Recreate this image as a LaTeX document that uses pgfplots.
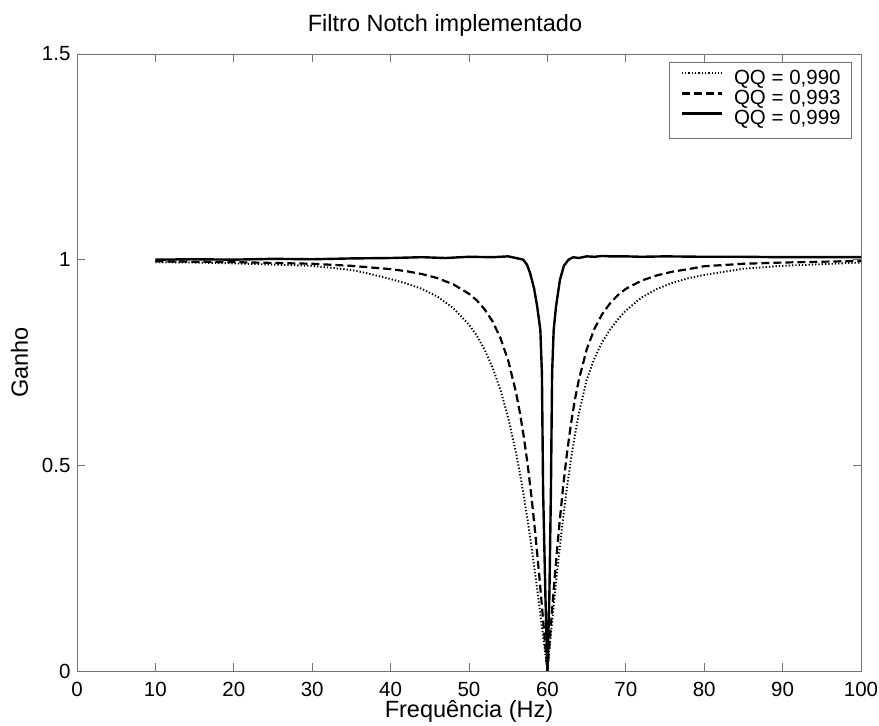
\documentclass[border=0pt]{standalone}
\usepackage{fontspec}
\setmainfont{Liberation Sans}
\usepackage{pgfplots}
\usepackage{pgfplotstable}
\pgfplotsset{compat=1.18}
\newcommand\fs[1]{\fontsize{#1}{#1}\selectfont}
\definecolor{axgray}{rgb}{0.45,0.45,0.45}

\pgfplotstableread{
f g
10 0.994
15 0.993
20 0.991
25 0.988
30 0.985
35 0.975
37 0.967
40 0.953
42 0.942
44 0.929
46 0.910
48 0.882
50 0.842
51 0.815
52 0.781
53 0.738
54 0.684
55 0.616
56 0.530
56.5 0.480
57 0.424
57.5 0.364
58 0.298
58.5 0.228
59 0.154
59.5 0.078
60 0.000
60.5 0.100
61 0.196
61.5 0.287
62 0.371
62.5 0.447
63 0.514
63.5 0.573
64 0.625
65 0.707
66 0.760
67 0.800
68 0.830
69 0.855
70 0.876
72 0.908
74 0.929
76 0.944
78 0.955
80 0.963
85 0.978
90 0.985
95 0.989
100 0.993
}\qqa

\pgfplotstableread{
f g
10 0.996
15 0.995
20 0.994
25 0.992
30 0.990
35 0.985
40 0.977
42 0.972
44 0.965
46 0.955
48 0.940
50 0.917
51 0.901
52 0.879
53 0.850
54 0.810
55 0.755
56 0.677
56.5 0.627
57 0.568
57.5 0.499
58 0.418
58.5 0.326
59 0.224
59.5 0.114
60 0.000
60.5 0.124
61 0.243
61.5 0.351
62 0.447
62.5 0.530
63 0.600
63.5 0.659
64 0.707
65 0.781
66 0.832
67 0.868
68 0.894
69 0.914
70 0.929
72 0.949
74 0.962
76 0.971
78 0.977
80 0.984
85 0.990
90 0.993
95 0.995
100 0.997
}\qqb

\pgfplotstableread{
f g
10 1.000
15 1.001
20 1.000
25 1.002
30 1.001
35 1.003
40 1.004
44 1.006
47 1.004
50 1.007
53 1.006
55 1.008
56 1.004
56.9 1.000
57.4 0.988
57.8 0.967
58.3 0.930
58.7 0.886
59.1 0.829
59.3 0.724
59.45 0.440
59.75 0.180
60 0.000
60.25 0.180
60.45 0.440
60.6 0.724
60.8 0.829
61.1 0.886
61.6 0.951
62.1 0.985
62.7 1.000
63.3 1.006
64 1.004
65 1.008
66 1.007
67 1.009
68 1.008
70 1.008
72 1.007
75 1.008
80 1.007
85 1.007
90 1.006
95 1.006
100 1.006
}\qqc

\begin{document}
\begin{tikzpicture}[x=1pt,y=1pt]
\useasboundingbox (-77,-55) rectangle (802,671);
\begin{axis}[
  at={(0,0)}, anchor=origin,
  scale only axis, width=784pt, height=617pt,
  xmin=0, xmax=100, ymin=0, ymax=1.5,
  xtick={0,10,...,100}, ytick={0,0.5,1,1.5},
  tick align=inside, major tick length=8pt,
  axis line style={axgray, line width=0.9pt},
  every tick/.style={axgray, line width=0.9pt},
  /pgf/number format/assume math mode=true,
  tick label style={font=\fs{20.5}, text=black},
  xticklabel style={anchor=base, yshift=-25pt},
  yticklabel style={anchor=east, xshift=-3pt},
  title={Filtro Notch implementado},
  title style={font=\fs{23.5}, at={(axis description cs:0.5,1)}, anchor=base, yshift=16pt, xshift=-24pt},
  xlabel={Frequência (Hz)},
  xlabel style={font=\fs{23.5}, at={(axis description cs:0.5,0)}, anchor=base, yshift=-46pt},
  ylabel={Ganho},
  ylabel style={font=\fs{23.5}, at={([xshift=-49pt]axis description cs:0,0.5)}, anchor=base},
  legend image code/.code={\draw[#1] (0pt,7pt) -- (40pt,7pt);},
  legend style={at={(0.9885,0.987)}, anchor=north east, draw=axgray, line width=0.8pt,
    font=\fs{20.5}, inner xsep=11pt, inner ysep=8pt, row sep=0pt,
    nodes={inner sep=0pt, text height=14.5pt, text depth=5.5pt},
    /tikz/every odd column/.append style={column sep=11pt}},
  legend cell align=left,
]
\addplot[black, line width=1.9pt, dash pattern=on 1.3pt off 2.0pt, line join=round] table[x=f,y=g] {\qqa};
\addlegendentry{QQ = 0,990\hspace{6pt}}
\addplot[black, line width=2.2pt, dash pattern=on 8pt off 4pt, line join=round] table[x=f,y=g] {\qqb};
\addlegendentry{QQ = 0,993\hspace{6pt}}
\addplot[black, line width=2.4pt, line join=round] table[x=f,y=g] {\qqc};
\addlegendentry{QQ = 0,999\hspace{6pt}}
\end{axis}
\end{tikzpicture}
\end{document}
